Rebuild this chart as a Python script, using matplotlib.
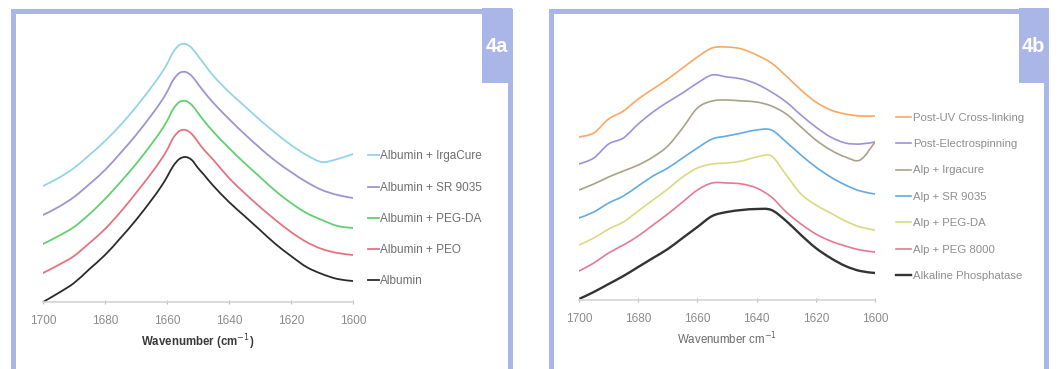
import matplotlib.pyplot as plt
import matplotlib as mpl
import numpy as np
from matplotlib.patches import Rectangle, PathPatch
from matplotlib.path import Path
from matplotlib.lines import Line2D

mpl.rcParams['font.family'] = ['Liberation Sans', 'DejaVu Sans']

# FTIR amide I region, stacked absorbance (a.u.)
# --- albumin samples ---
wn_a = [1700, 1695, 1690, 1685, 1680, 1675, 1670, 1665, 1662, 1660, 1658, 1656, 1654,
        1652, 1650, 1648, 1645, 1640, 1635, 1630, 1625, 1620, 1615, 1610, 1605, 1600]
albumin = [0.00, 0.09, 0.19, 0.33, 0.47, 0.64, 0.82, 1.02, 1.15, 1.25, 1.36, 1.43, 1.45,
           1.42, 1.34, 1.27, 1.16, 1.00, 0.86, 0.72, 0.58, 0.46, 0.35, 0.28, 0.23, 0.21]
albumin_peo = [0.29, 0.37, 0.46, 0.59, 0.73, 0.90, 1.09, 1.29, 1.42, 1.52, 1.64, 1.71, 1.72,
               1.68, 1.60, 1.52, 1.42, 1.24, 1.09, 0.95, 0.82, 0.70, 0.60, 0.53, 0.49, 0.47]
albumin_pegda = [0.58, 0.66, 0.75, 0.88, 1.03, 1.20, 1.38, 1.58, 1.71, 1.81, 1.93, 2.00, 2.01,
                 1.97, 1.89, 1.81, 1.70, 1.54, 1.39, 1.25, 1.11, 0.99, 0.89, 0.82, 0.76, 0.74]
albumin_sr = [0.87, 0.95, 1.05, 1.18, 1.32, 1.49, 1.67, 1.87, 2.00, 2.10, 2.22, 2.29, 2.30,
              2.26, 2.18, 2.10, 1.99, 1.83, 1.68, 1.54, 1.41, 1.30, 1.20, 1.12, 1.07, 1.04]
albumin_irga = [1.16, 1.24, 1.34, 1.47, 1.61, 1.77, 1.95, 2.15, 2.28, 2.38, 2.50, 2.57, 2.58,
                2.54, 2.46, 2.38, 2.26, 2.10, 1.96, 1.82, 1.69, 1.57, 1.47, 1.40, 1.43, 1.48]

labels_a = ['Albumin', 'Albumin + PEO', 'Albumin + PEG-DA', 'Albumin + SR 9035',
            'Albumin + IrgaCure']
colors_a = ['#2b2b2b', '#e27480', '#62cf72', '#a093d3', '#95d3e9']

# --- alkaline phosphatase samples ---
wn_b = [1700, 1695, 1690, 1685, 1680, 1675, 1670, 1665, 1660, 1655, 1650,
        1645, 1640, 1635, 1630, 1625, 1620, 1615, 1610, 1605, 1600]
alp = [0.01, 0.08, 0.16, 0.24, 0.33, 0.42, 0.51, 0.62, 0.73, 0.84, 0.88,
       0.90, 0.91, 0.90, 0.79, 0.65, 0.52, 0.42, 0.34, 0.29, 0.27]
alp_peg8000 = [0.29, 0.37, 0.47, 0.55, 0.64, 0.75, 0.86, 0.98, 1.10, 1.17, 1.17,
               1.16, 1.12, 1.03, 0.88, 0.76, 0.66, 0.59, 0.54, 0.50, 0.48]
alp_pegda = [0.55, 0.62, 0.71, 0.78, 0.89, 1.00, 1.11, 1.23, 1.32, 1.36, 1.37,
             1.39, 1.43, 1.44, 1.25, 1.06, 0.95, 0.87, 0.79, 0.73, 0.70]
alp_sr = [0.82, 0.88, 0.97, 1.04, 1.14, 1.24, 1.32, 1.42, 1.52, 1.61, 1.64,
          1.67, 1.70, 1.70, 1.58, 1.45, 1.33, 1.23, 1.15, 1.09, 1.06]
alp_irga = [1.10, 1.16, 1.23, 1.29, 1.35, 1.43, 1.54, 1.72, 1.92, 1.99, 2.00,
            1.99, 1.98, 1.94, 1.86, 1.73, 1.60, 1.50, 1.43, 1.40, 1.58]
post_es = [1.36, 1.42, 1.56, 1.62, 1.76, 1.88, 1.98, 2.07, 2.17, 2.25, 2.23,
           2.21, 2.16, 2.08, 1.98, 1.85, 1.73, 1.63, 1.57, 1.56, 1.58]
post_uv = [1.63, 1.67, 1.81, 1.89, 2.01, 2.11, 2.21, 2.32, 2.43, 2.52, 2.53,
           2.51, 2.45, 2.37, 2.24, 2.10, 1.98, 1.90, 1.86, 1.84, 1.84]

labels_b = ['Alkaline Phosphatase', 'Alp + PEG 8000', 'Alp + PEG-DA', 'Alp + SR 9035',
            'Alp + Irgacure', 'Post-Electrospinning', 'Post-UV Cross-linking']
colors_b = ['#333333', '#e37a92', '#d8da82', '#62aae2', '#a9a28a', '#9d92d8', '#f8a862']

ticks = [1700, 1680, 1660, 1640, 1620, 1600]

W, H = 1061, 369
frame_col = '#aab5e8'
fig = plt.figure(figsize=(W / 100, H / 100), dpi=100)


def px_axes(x0, x1, y_top, y_bot):
    return fig.add_axes([x0 / W, 1 - y_bot / H, (x1 - x0) / W, (y_bot - y_top) / H])


def smooth_line(ax, x, y, color, lw):
    # spreadsheet-style smoothed line: cubic Bezier through every point (Catmull-Rom)
    p = np.column_stack([x, y]).astype(float)
    ext = np.vstack([p[0], p, p[-1]])
    verts = [p[0]]
    codes = [Path.MOVETO]
    for i in range(1, len(ext) - 2):
        p0, p1, p2, p3 = ext[i - 1], ext[i], ext[i + 1], ext[i + 2]
        verts += [p1 + (p2 - p0) / 6, p2 - (p3 - p1) / 6, p2]
        codes += [Path.CURVE4] * 3
    ax.add_patch(PathPatch(Path(verts, codes), fill=False, edgecolor=color, lw=lw,
                           joinstyle='round', capstyle='round'))
    return Line2D([], [], color=color, lw=lw)


def style_axes(ax, xlabel, xlabel_color, weight):
    ax.set_xlim(1700, 1600)
    ax.set_ylim(0, 2.6)
    for s in ['top', 'right', 'left']:
        ax.spines[s].set_visible(False)
    ax.spines['bottom'].set_color('#d4d4d4')
    ax.spines['bottom'].set_linewidth(1.2)
    ax.set_yticks([])
    ax.set_xticks(ticks)
    ax.tick_params(axis='x', direction='inout', length=3, width=0.8, color='#bbbbbb',
                   labelsize=8.5, labelcolor='#8a8a8a', pad=8)
    ax.set_xlabel(xlabel, fontsize=8.3, color=xlabel_color, weight=weight, labelpad=4)


def frame(x0, x1, box_x0, text):
    # periwinkle border, open at the bottom edge
    fig.patches.append(Rectangle((x0 / W, -0.1), (x1 - x0) / W, (H - 10.5) / H + 0.1,
                                 transform=fig.transFigure, fill=False,
                                 edgecolor=frame_col, linewidth=3.6))
    fig.patches.append(Rectangle((box_x0 / W, 1 - 83 / H), (x1 + 2.5 - box_x0) / W, 75 / H,
                                 transform=fig.transFigure, facecolor=frame_col,
                                 edgecolor='none'))
    fig.text((box_x0 + x1 + 2.5) / 2 / W, 1 - 47 / H, text, color='white', fontsize=14.5,
             weight='bold', ha='center', va='center')


# panel a
ax1 = px_axes(43, 353, 42, 302)
series_a = [albumin, albumin_peo, albumin_pegda, albumin_sr, albumin_irga]
handles_a = [smooth_line(ax1, wn_a, y, c, 1.3) for y, c in zip(series_a, colors_a)]
style_axes(ax1, 'Wavenumber (cm$^{-1}$)', '#3a3a3a', 'bold')
ax1.legend(handles_a[::-1], labels_a[::-1], loc='upper left',
           bbox_to_anchor=(362 / W, 1 - 144.5 / H), bbox_transform=fig.transFigure,
           frameon=False, fontsize=8.5, labelcolor='#6e6e6e', handlelength=0.95,
           handletextpad=0.1, labelspacing=1.63, borderpad=0)
frame(12.5, 509.5, 482, '4a')

# panel b
ax2 = px_axes(579, 875, 40, 300)
series_b = [alp, alp_peg8000, alp_pegda, alp_sr, alp_irga, post_es, post_uv]
handles_b = [smooth_line(ax2, wn_b, y, c, 1.7 if c == '#333333' else 1.2)
             for y, c in zip(series_b, colors_b)]
style_axes(ax2, 'Wavenumber cm$^{-1}$', '#6a6a6a', 'normal')
ax2.legend(handles_b[::-1], labels_b[::-1], loc='upper left',
           bbox_to_anchor=(890 / W, 1 - 107 / H), bbox_transform=fig.transFigure,
           frameon=False, fontsize=8.2, labelcolor='#8e8e8e', handlelength=1.3,
           handletextpad=0.25, labelspacing=1.44, borderpad=0)
frame(550.5, 1046, 1019, '4b')

fig.savefig('out.png', dpi=100)
